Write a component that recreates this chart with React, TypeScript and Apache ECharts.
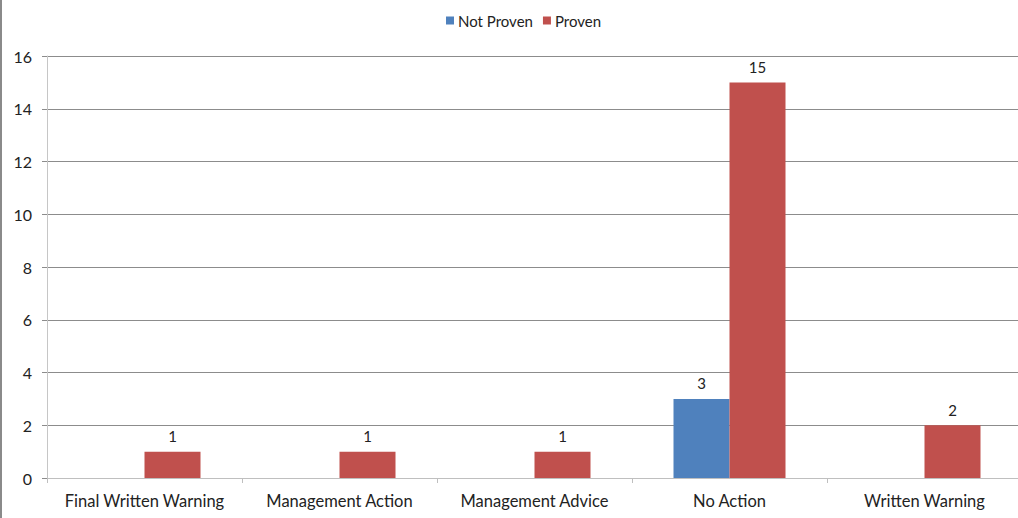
import React, { useEffect, useRef } from "react";
import * as echarts from "echarts";

const categories = ["Final Written Warning", "Management Action", "Management Advice", "No Action", "Written Warning"];
const notProven: (number | null)[] = [null, null, null, 3, null];
const proven: (number | null)[] = [1, 1, 1, 15, 2];
const yTicks = { min: 0, max: 16, interval: 2 };

const FONT = "Lato, 'Open Sans', sans-serif";

export default function App() {
  const ref = useRef<HTMLDivElement>(null);
  useEffect(() => {
    document.body.style.margin = "0";
    const chart = echarts.init(ref.current!, undefined, { renderer: "svg" });
    const label = {
      show: true,
      position: "top" as const,
      distance: 8,
      color: "#222",
      fontSize: 15,
      fontFamily: FONT,
    };
    chart.setOption({
      animation: false,
      backgroundColor: "#fff",
      legend: {
        top: 8,
        left: 441,
        itemWidth: 8,
        itemHeight: 8,
        itemGap: 10,
        icon: "rect",
        textStyle: { fontSize: 15, fontFamily: FONT, color: "#222", padding: [0, 0, 0, -1] },
        data: ["Not Proven", "Proven"],
      },
      grid: {
        left: 47,
        top: 56,
        width: 975,
        height: 422,
        containLabel: false,
        outerBoundsMode: "none",
      },
      xAxis: {
        type: "category",
        data: categories,
        axisLine: { lineStyle: { color: "#bfbfbf", width: 1 } },
        axisTick: { show: true, length: 5, lineStyle: { color: "#bfbfbf" } },
        axisLabel: { interval: 0, margin: 14, fontSize: 16.5, fontFamily: FONT, color: "#222" },
      },
      yAxis: {
        type: "value",
        min: yTicks.min,
        max: yTicks.max,
        interval: yTicks.interval,
        axisLine: { show: true, lineStyle: { color: "#c6c6c6", width: 1 } },
        axisTick: { show: true, length: 5, lineStyle: { color: "#8c8c8c" } },
        axisLabel: { margin: 15, fontSize: 16, fontFamily: FONT, color: "#222" },
        splitLine: { show: true, lineStyle: { color: "#8c8c8c", width: 1 } },
      },
      series: [
        {
          name: "Not Proven",
          type: "bar",
          data: notProven,
          itemStyle: { color: "#4F81BD" },
          barWidth: 56,
          barGap: "0%",
          label,
        },
        {
          name: "Proven",
          type: "bar",
          data: proven,
          itemStyle: { color: "#C0504D" },
          barWidth: 56,
          barGap: "0%",
          label,
        },
      ],
      graphic: [
        {
          type: "rect",
          shape: { x: 0, y: 0, width: 2, height: 518 },
          style: { fill: "#8a8a8a" },
        },
      ],
    });
    return () => chart.dispose();
  }, []);
  return <div ref={ref} style={{ position: "absolute", left: 0, top: 0, width: 1018, height: 518 }} />;
}
